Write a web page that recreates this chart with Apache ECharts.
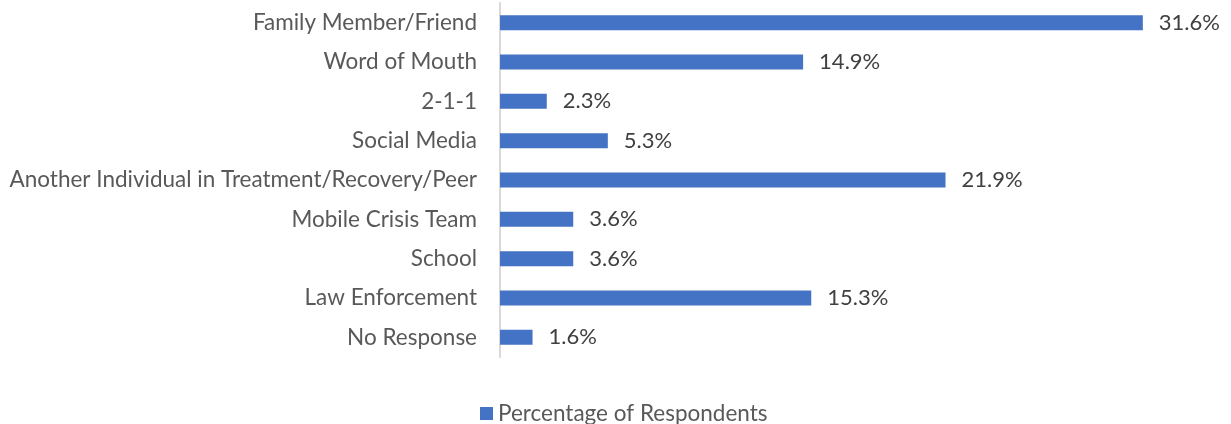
<!DOCTYPE html>
<html><head><meta charset="utf-8">
<script src="https://cdn.jsdelivr.net/npm/echarts@6/dist/echarts.min.js"></script>
<style>html,body{margin:0;padding:0;background:#fff}#c{width:1231px;height:424px}</style>
</head><body><div id="c"></div>
<script>
const categories = ["Family Member/Friend","Word of Mouth","2-1-1","Social Media","Another Individual in Treatment/Recovery/Peer","Mobile Crisis Team","School","Law Enforcement","No Response"];
const values = [31.6,14.9,2.3,5.3,21.9,3.6,3.6,15.3,1.6];
const seriesName = "Percentage of Respondents";
const font = "Lato, sans-serif";
const chart = echarts.init(document.getElementById('c'));
chart.setOption({
  animation:false,
  grid:{left:500,right:19,top:3,height:354,containLabel:false},
  legend:{top:397,left:475,itemWidth:13,itemHeight:13,icon:'rect',itemGap:5,
    textStyle:{color:'#595959',fontSize:22.5,fontFamily:font},data:[seriesName]},
  xAxis:{type:'value',min:0,max:35,show:false},
  yAxis:{type:'category',inverse:true,data:categories,
    axisLine:{lineStyle:{color:'#d9d9d9',width:2}},axisTick:{show:false},
    axisLabel:{color:'#595959',fontSize:22.5,fontFamily:font,margin:23}},
  series:[{name:seriesName,type:'bar',data:values,barWidth:15,
    itemStyle:{color:'#4472C4'},
    label:{show:true,position:'right',distance:16,color:'#404040',fontSize:22,fontFamily:font,
      formatter:p=>p.value.toFixed(1)+'%'}}]
});
</script></body></html>
